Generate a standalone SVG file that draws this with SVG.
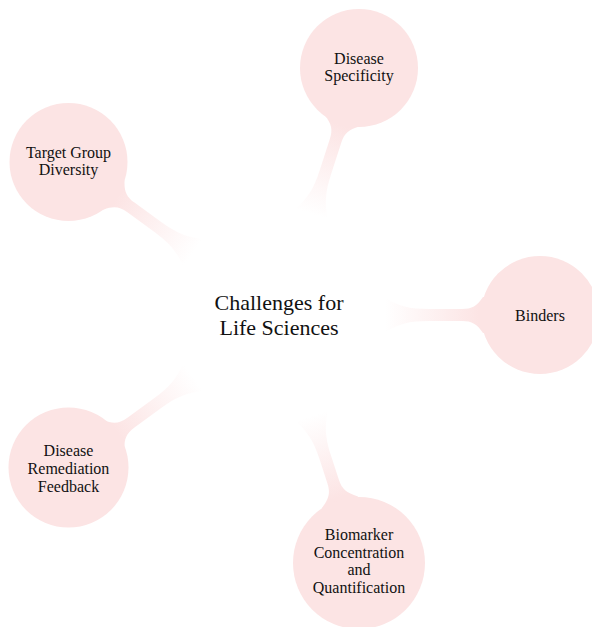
<svg xmlns="http://www.w3.org/2000/svg" width="592" height="627" viewBox="0 0 592 627">
<defs>
<linearGradient id="fade" gradientUnits="userSpaceOnUse" x1="106" y1="0" x2="200" y2="0">
<stop offset="0" stop-color="#ffffff"/>
<stop offset="1" stop-color="#fce4e4"/>
</linearGradient>
<linearGradient id="fadeB" gradientUnits="userSpaceOnUse" x1="106" y1="0" x2="192" y2="0">
<stop offset="0" stop-color="#ffffff"/>
<stop offset="1" stop-color="#fce4e4"/>
</linearGradient>
</defs>
<style>
.bar{fill:url(#fade);stroke:none}
.barB{fill:url(#fadeB);stroke:none}
.c{fill:#fce4e4;stroke:none}
.t{font-family:"Liberation Serif","Times New Roman",serif;font-size:16px;fill:#111;text-anchor:middle}
.root{font-family:"Liberation Serif","Times New Roman",serif;font-size:22px;fill:#111;text-anchor:middle}
</style>
<rect width="592" height="627" fill="#ffffff"/>
<g id="connectors">
<g transform="translate(279,315) rotate(0)"><path class="bar" d="M106,-17 C120,-9 130,-6 150,-6 L183,-6 C193,-6 198,-9 204,-18 L214,-18 L214,18 L204,18 C198,9 193,6 183,6 L150,6 C130,6 120,9 106,17 Z"/></g>
<g transform="translate(279,315) rotate(-72)"><path class="bar" d="M106,-17 C120,-9 130,-6 150,-6 L183,-6 C193,-6 198,-9 204,-18 L214,-18 L214,18 L204,18 C198,9 193,6 183,6 L150,6 C130,6 120,9 106,17 Z"/></g>
<g transform="translate(279,315) rotate(-144)"><path class="bar" d="M106,-17 C120,-9 130,-6 150,-6 L183,-6 C193,-6 198,-9 204,-18 L214,-18 L214,18 L204,18 C198,9 193,6 183,6 L150,6 C130,6 120,9 106,17 Z"/></g>
<g transform="translate(279,315) rotate(144)"><path class="bar" d="M106,-17 C120,-9 130,-6 150,-6 L183,-6 C193,-6 198,-9 204,-18 L214,-18 L214,18 L204,18 C198,9 193,6 183,6 L150,6 C130,6 120,9 106,17 Z"/></g>
<g transform="translate(279,315) rotate(72)"><path class="barB" d="M106,-17 C120,-9 130,-6 150,-6 L175,-6 C185,-6 190,-9 197,-19 L208,-19 L208,19 L197,19 C190,9 185,6 175,6 L150,6 C130,6 120,9 106,17 Z"/></g>
</g>
<g id="root">
<text class="root" x="279" y="310">Challenges for</text>
<text class="root" x="279" y="335">Life Sciences</text>
</g>
<g id="disease-specificity">
<circle class="c" cx="359" cy="68" r="59"/>
<text class="t" x="359" y="64">Disease</text>
<text class="t" x="359" y="81">Specificity</text>
</g>
<g id="target-group-diversity">
<circle class="c" cx="68.5" cy="162" r="59"/>
<text class="t" x="68.5" y="158">Target Group</text>
<text class="t" x="68.5" y="175">Diversity</text>
</g>
<g id="binders">
<circle class="c" cx="540" cy="315" r="59"/>
<text class="t" x="540" y="321">Binders</text>
</g>
<g id="disease-remediation-feedback">
<circle class="c" cx="68.5" cy="467.5" r="60"/>
<text class="t" x="68.5" y="456">Disease</text>
<text class="t" x="68.5" y="474">Remediation</text>
<text class="t" x="68.5" y="492">Feedback</text>
</g>
<g id="biomarker">
<circle class="c" cx="359" cy="563" r="66"/>
<text class="t" x="359" y="540">Biomarker</text>
<text class="t" x="359" y="557.5">Concentration</text>
<text class="t" x="359" y="575">and</text>
<text class="t" x="359" y="592.5">Quantification</text>
</g>
</svg>
